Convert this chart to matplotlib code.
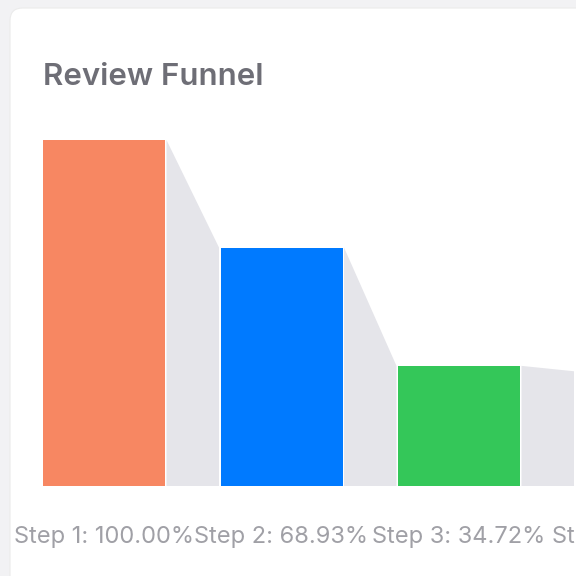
import matplotlib.pyplot as plt
import matplotlib.transforms as mtransforms
from matplotlib.patches import FancyBboxPatch, Polygon

steps = ["Step 1", "Step 2", "Step 3", "Step 4"]
percents = [100.00, 68.93, 34.72, 33.16]
colors = ["#f78762", "#007aff", "#34c759", "#ff9f0a"]
connector_color = "#e5e5ea"

W = H = 576
fig = plt.figure(figsize=(5.76, 5.76), dpi=100)
fig.patch.set_facecolor("#f2f2f4")

# white card (behind the axes)
card = FancyBboxPatch((10 / W, -0.2), 1.2, 1 - 8 / H + 0.2,
                      boxstyle="round,pad=0,rounding_size=0.022",
                      transform=fig.transFigure, facecolor="white",
                      edgecolor="#ebebeb", linewidth=0.8, zorder=-5)
fig.patches.append(card)

fig.text(43 / W, 1 - 85 / H, "Review Funnel", fontsize=22.5, fontweight="semibold",
         color="#6e6e76", family=["Inter", "DejaVu Sans"], va="baseline")

# axes spanning pixel region: baseline at y=486, 100% at y=140
ax = fig.add_axes([0, 1 - 486 / H, 1, (486 - 140) / H])
ax.set_zorder(2)
pitch = 177.5
first_center = 104
ax.set_xlim(-first_center / pitch, (W - first_center) / pitch)
ax.set_ylim(0, 100)
ax.axis("off")

bw = 122 / pitch
gap = 1.5 / pitch
xs = list(range(len(steps)))
ax.bar(xs, percents, width=bw, color=colors, linewidth=0)

for i in range(len(steps) - 1):
    x0 = xs[i] + bw / 2 + gap
    x1 = xs[i + 1] - bw / 2 - gap
    poly = Polygon([(x0, 0), (x0, percents[i]), (x1, percents[i + 1]), (x1, 0)],
                   closed=True, facecolor=connector_color, edgecolor="none")
    ax.add_patch(poly)

trans = mtransforms.blended_transform_factory(ax.transData, fig.transFigure)
for i, (s, p) in enumerate(zip(steps, percents)):
    ax.text(xs[i], 1 - 537 / H, f"{s}: {p:.2f}%", transform=trans, ha="center",
            va="center", fontsize=17, color="#a0a0a6",
            family=["Inter", "DejaVu Sans"], clip_on=False)

fig.savefig("out.png", dpi=100, facecolor=fig.get_facecolor())
